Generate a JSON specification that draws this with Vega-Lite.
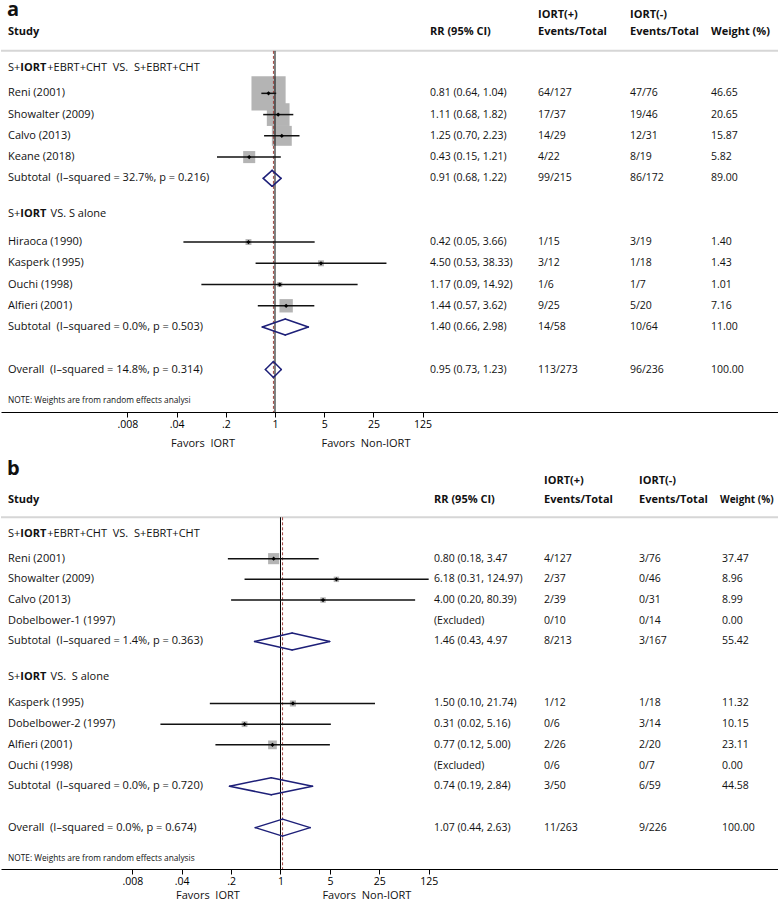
{
"$schema": "https://vega.github.io/schema/vega-lite/v6.json",
"padding": 0,
"background": "white",
"spacing": 0,
"resolve": {"scale": {"size": "independent", "x": "independent", "y": "independent"}},
"config": {"view": {"stroke": null}, "text": {"font": "Open Sans", "fontSize": 11, "color": "#111"},
"axis": {"grid": false, "domainColor": "#000", "domainWidth": 1, "tickColor": "#000", "tickWidth": 1, "tickSize": 5, "labelColor": "#000", "labelFont": "Open Sans", "labelFontSize": 10.5, "labelPadding": 2, "labelFlush": false, "labelOverlap": false}},
"datasets": {
"A": [
{"kind":"group","row":-0.2,"g3":"+EBRT+CHT\u00a0 VS.\u00a0 S+EBRT+CHT"},
{"kind":"study","row":1,"study":"Reni (2001)","rr":"0.81 (0.64, 1.04)","ev1":"64/127","ev2":"47/76","w":"46.65","lo":0.64,"est":0.81,"hi":1.04,"weight":46.65},
{"kind":"study","row":2,"study":"Showalter (2009)","rr":"1.11 (0.68, 1.82)","ev1":"17/37","ev2":"19/46","w":"20.65","lo":0.68,"est":1.11,"hi":1.82,"weight":20.65},
{"kind":"study","row":3,"study":"Calvo (2013)","rr":"1.25 (0.70, 2.23)","ev1":"14/29","ev2":"12/31","w":"15.87","lo":0.70,"est":1.25,"hi":2.23,"weight":15.87},
{"kind":"study","row":4,"study":"Keane (2018)","rr":"0.43 (0.15, 1.21)","ev1":"4/22","ev2":"8/19","w":"5.82","lo":0.15,"est":0.43,"hi":1.21,"weight":5.82},
{"kind":"sub","row":5,"study":"Subtotal\u00a0 (I–squared = 32.7%, p = 0.216)","rr":"0.91 (0.68, 1.22)","ev1":"99/215","ev2":"86/172","w":"89.00","lo":0.68,"est":0.91,"hi":1.22,"weight":89},
{"kind":"group","row":6.7,"g3":"VS. S alone"},
{"kind":"study","row":8,"study":"Hiraoca (1990)","rr":"0.42 (0.05, 3.66)","ev1":"1/15","ev2":"3/19","w":"1.40","lo":0.05,"est":0.42,"hi":3.66,"weight":1.40},
{"kind":"study","row":9,"study":"Kasperk (1995)","rr":"4.50 (0.53, 38.33)","ev1":"3/12","ev2":"1/18","w":"1.43","lo":0.53,"est":4.50,"hi":38.33,"weight":1.43},
{"kind":"study","row":10,"study":"Ouchi (1998)","rr":"1.17 (0.09, 14.92)","ev1":"1/6","ev2":"1/7","w":"1.01","lo":0.09,"est":1.17,"hi":14.92,"weight":1.01},
{"kind":"study","row":11,"study":"Alfieri (2001)","rr":"1.44 (0.57, 3.62)","ev1":"9/25","ev2":"5/20","w":"7.16","lo":0.57,"est":1.44,"hi":3.62,"weight":7.16},
{"kind":"sub","row":12,"study":"Subtotal\u00a0 (I–squared = 0.0%, p = 0.503)","rr":"1.40 (0.66, 2.98)","ev1":"14/58","ev2":"10/64","w":"11.00","lo":0.66,"est":1.40,"hi":2.98,"weight":11},
{"kind":"overall","row":14,"study":"Overall\u00a0 (I–squared = 14.8%, p = 0.314)","rr":"0.95 (0.73, 1.23)","ev1":"113/273","ev2":"96/236","w":"100.00","lo":0.73,"est":0.95,"hi":1.23,"weight":100},
{"kind":"note","row":15.5,"study":"NOTE: Weights are from random effects analysi"}
],
"B": [
{"kind":"group","row":-0.2,"g3":"+EBRT+CHT\u00a0 VS.\u00a0 S+EBRT+CHT"},
{"kind":"study","row":1,"study":"Reni (2001)","rr":"0.80 (0.18, 3.47","ev1":"4/127","ev2":"3/76","w":"37.47","lo":0.18,"est":0.80,"hi":3.47,"weight":37.47},
{"kind":"study","row":2,"study":"Showalter (2009)","rr":"6.18 (0.31, 124.97)","ev1":"2/37","ev2":"0/46","w":"8.96","lo":0.31,"est":6.18,"hi":124.97,"weight":8.96},
{"kind":"study","row":3,"study":"Calvo (2013)","rr":"4.00 (0.20, 80.39)","ev1":"2/39","ev2":"0/31","w":"8.99","lo":0.20,"est":4.00,"hi":80.39,"weight":8.99},
{"kind":"study","row":4,"study":"Dobelbower-1 (1997)","rr":"(Excluded)","ev1":"0/10","ev2":"0/14","w":"0.00","weight":0},
{"kind":"sub","row":5,"study":"Subtotal\u00a0 (I–squared = 1.4%, p = 0.363)","rr":"1.46 (0.43, 4.97","ev1":"8/213","ev2":"3/167","w":"55.42","lo":0.43,"est":1.46,"hi":4.97,"weight":55.42},
{"kind":"group","row":6.7,"g3":"VS.\u00a0 S alone"},
{"kind":"study","row":8,"study":"Kasperk (1995)","rr":"1.50 (0.10, 21.74)","ev1":"1/12","ev2":"1/18","w":"11.32","lo":0.10,"est":1.50,"hi":21.74,"weight":11.32},
{"kind":"study","row":9,"study":"Dobelbower-2 (1997)","rr":"0.31 (0.02, 5.16)","ev1":"0/6","ev2":"3/14","w":"10.15","lo":0.02,"est":0.31,"hi":5.16,"weight":10.15},
{"kind":"study","row":10,"study":"Alfieri (2001)","rr":"0.77 (0.12, 5.00)","ev1":"2/26","ev2":"2/20","w":"23.11","lo":0.12,"est":0.77,"hi":5.00,"weight":23.11},
{"kind":"study","row":11,"study":"Ouchi (1998)","rr":"(Excluded)","ev1":"0/6","ev2":"0/7","w":"0.00","weight":0},
{"kind":"sub","row":12,"study":"Subtotal\u00a0 (I–squared = 0.0%, p = 0.720)","rr":"0.74 (0.19, 2.84)","ev1":"3/50","ev2":"6/59","w":"44.58","lo":0.19,"est":0.74,"hi":2.84,"weight":44.58},
{"kind":"overall","row":14,"study":"Overall\u00a0 (I–squared = 0.0%, p = 0.674)","rr":"1.07 (0.44, 2.63)","ev1":"11/263","ev2":"9/226","w":"100.00","lo":0.44,"est":1.07,"hi":2.63,"weight":100},
{"kind":"note","row":15.5,"study":"NOTE: Weights are from random effects analysis"}
]
},
"vconcat": [
{
"width": 778, "height": 410,
"data": {"name": "A"},
"layer": [
{"transform":[{"filter":"datum.kind=='note'"}],"mark":{"type":"rule","color":"#d6d6d6","strokeWidth":2},"encoding":{"y":{"datum":-1,"type":"quantitative","scale":{"domain":[-3.3,16],"reverse":true,"nice":false,"zero":false},"axis":null}}},
{"transform":[{"filter":"datum.kind=='study' && datum.weight>0"}],"mark":{"type":"point","shape":"square","filled":true,"color":"#b4b4b4","opacity":1,"strokeWidth":0},"encoding":{"x":{"field":"est","type":"quantitative","scale":{"type":"log","domain":[0.0001281,14460000],"nice":false},"axis":{"values":[0.008,0.04,0.2,1,5,25,125],"labelExpr":"datum.value < 0.01 ? '.008' : datum.value < 0.1 ? '.04' : datum.value < 0.5 ? '.2' : format(datum.value, 'd')","title":null}},"y":{"field":"row","type":"quantitative","scale":{"domain":[-3.3,16],"reverse":true,"nice":false,"zero":false},"axis":null},"size":{"field":"weight","type":"quantitative","scale":{"domain":[0,100],"range":[0,2500]},"legend":null}}},
{"transform":[{"filter":"datum.kind=='note'"}],"mark":{"type":"rule","color":"#000","strokeWidth":1},"encoding":{"x":{"datum":1,"type":"quantitative","scale":{"type":"log","domain":[0.0001281,14460000],"nice":false},"axis":{"values":[0.008,0.04,0.2,1,5,25,125],"labelExpr":"datum.value < 0.01 ? '.008' : datum.value < 0.1 ? '.04' : datum.value < 0.5 ? '.2' : format(datum.value, 'd')","title":null}},"y":{"datum":-1,"type":"quantitative","scale":{"domain":[-3.3,16],"reverse":true,"nice":false,"zero":false},"axis":null},"y2":{"datum":16}}},
{"transform":[{"filter":"datum.kind=='overall'"}],"mark":{"type":"rule","color":"#a0453f","strokeWidth":1,"strokeDash":[3,2]},"encoding":{"x":{"field":"est","type":"quantitative","scale":{"type":"log","domain":[0.0001281,14460000],"nice":false},"axis":{"values":[0.008,0.04,0.2,1,5,25,125],"labelExpr":"datum.value < 0.01 ? '.008' : datum.value < 0.1 ? '.04' : datum.value < 0.5 ? '.2' : format(datum.value, 'd')","title":null}},"y":{"datum":-1,"type":"quantitative","scale":{"domain":[-3.3,16],"reverse":true,"nice":false,"zero":false},"axis":null},"y2":{"datum":16}}},
{"transform":[{"filter":"datum.kind=='study' && datum.weight>0"}],"mark":{"type":"rule","color":"#111","strokeWidth":1.5},"encoding":{"x":{"field":"lo","type":"quantitative","scale":{"type":"log","domain":[0.0001281,14460000],"nice":false},"axis":{"values":[0.008,0.04,0.2,1,5,25,125],"labelExpr":"datum.value < 0.01 ? '.008' : datum.value < 0.1 ? '.04' : datum.value < 0.5 ? '.2' : format(datum.value, 'd')","title":null}},"x2":{"field":"hi"},"y":{"field":"row","type":"quantitative","scale":{"domain":[-3.3,16],"reverse":true,"nice":false,"zero":false},"axis":null}}},
{"transform":[{"filter":"datum.kind=='study' && datum.weight>0"}],"mark":{"type":"point","shape":"diamond","filled":true,"color":"#000","opacity":1,"size":18},"encoding":{"x":{"field":"est","type":"quantitative","scale":{"type":"log","domain":[0.0001281,14460000],"nice":false},"axis":{"values":[0.008,0.04,0.2,1,5,25,125],"labelExpr":"datum.value < 0.01 ? '.008' : datum.value < 0.1 ? '.04' : datum.value < 0.5 ? '.2' : format(datum.value, 'd')","title":null}},"y":{"field":"row","type":"quantitative","scale":{"domain":[-3.3,16],"reverse":true,"nice":false,"zero":false},"axis":null}}},
{"transform":[{"filter":"datum.kind=='sub' || datum.kind=='overall'"}],"mark":{"type":"rule","color":"#1d1f78","strokeWidth":1.5,"strokeCap":"round","y2Offset":-8},"encoding":{"x":{"field":"lo","type":"quantitative","scale":{"type":"log","domain":[0.0001281,14460000],"nice":false},"axis":{"values":[0.008,0.04,0.2,1,5,25,125],"labelExpr":"datum.value < 0.01 ? '.008' : datum.value < 0.1 ? '.04' : datum.value < 0.5 ? '.2' : format(datum.value, 'd')","title":null}},"x2":{"field":"est"},"y":{"field":"row","type":"quantitative","scale":{"domain":[-3.3,16],"reverse":true,"nice":false,"zero":false},"axis":null},"y2":{"field":"row"}}},
{"transform":[{"filter":"datum.kind=='sub' || datum.kind=='overall'"}],"mark":{"type":"rule","color":"#1d1f78","strokeWidth":1.5,"strokeCap":"round","yOffset":-8},"encoding":{"x":{"field":"est","type":"quantitative","scale":{"type":"log","domain":[0.0001281,14460000],"nice":false},"axis":{"values":[0.008,0.04,0.2,1,5,25,125],"labelExpr":"datum.value < 0.01 ? '.008' : datum.value < 0.1 ? '.04' : datum.value < 0.5 ? '.2' : format(datum.value, 'd')","title":null}},"x2":{"field":"hi"},"y":{"field":"row","type":"quantitative","scale":{"domain":[-3.3,16],"reverse":true,"nice":false,"zero":false},"axis":null},"y2":{"field":"row"}}},
{"transform":[{"filter":"datum.kind=='sub' || datum.kind=='overall'"}],"mark":{"type":"rule","color":"#1d1f78","strokeWidth":1.5,"strokeCap":"round","y2Offset":8},"encoding":{"x":{"field":"hi","type":"quantitative","scale":{"type":"log","domain":[0.0001281,14460000],"nice":false},"axis":{"values":[0.008,0.04,0.2,1,5,25,125],"labelExpr":"datum.value < 0.01 ? '.008' : datum.value < 0.1 ? '.04' : datum.value < 0.5 ? '.2' : format(datum.value, 'd')","title":null}},"x2":{"field":"est"},"y":{"field":"row","type":"quantitative","scale":{"domain":[-3.3,16],"reverse":true,"nice":false,"zero":false},"axis":null},"y2":{"field":"row"}}},
{"transform":[{"filter":"datum.kind=='sub' || datum.kind=='overall'"}],"mark":{"type":"rule","color":"#1d1f78","strokeWidth":1.5,"strokeCap":"round","yOffset":8},"encoding":{"x":{"field":"est","type":"quantitative","scale":{"type":"log","domain":[0.0001281,14460000],"nice":false},"axis":{"values":[0.008,0.04,0.2,1,5,25,125],"labelExpr":"datum.value < 0.01 ? '.008' : datum.value < 0.1 ? '.04' : datum.value < 0.5 ? '.2' : format(datum.value, 'd')","title":null}},"x2":{"field":"lo"},"y":{"field":"row","type":"quantitative","scale":{"domain":[-3.3,16],"reverse":true,"nice":false,"zero":false},"axis":null},"y2":{"field":"row"}}},
{"transform":[{"filter":"datum.kind=='study' || datum.kind=='sub' || datum.kind=='overall'"}],"mark":{"type":"text","align":"left","baseline":"middle"},"encoding":{"x":{"value":7},"y":{"field":"row","type":"quantitative","scale":{"domain":[-3.3,16],"reverse":true,"nice":false,"zero":false},"axis":null},"text":{"field":"study"}}},
{"transform":[{"filter":"datum.kind=='study' || datum.kind=='sub' || datum.kind=='overall'"}],"mark":{"type":"text","align":"left","baseline":"middle","fontSize":10.5},"encoding":{"x":{"value":429},"y":{"field":"row","type":"quantitative","scale":{"domain":[-3.3,16],"reverse":true,"nice":false,"zero":false},"axis":null},"text":{"field":"rr"}}},
{"transform":[{"filter":"datum.kind=='study' || datum.kind=='sub' || datum.kind=='overall'"}],"mark":{"type":"text","align":"left","baseline":"middle","fontSize":10.5},"encoding":{"x":{"value":537},"y":{"field":"row","type":"quantitative","scale":{"domain":[-3.3,16],"reverse":true,"nice":false,"zero":false},"axis":null},"text":{"field":"ev1"}}},
{"transform":[{"filter":"datum.kind=='study' || datum.kind=='sub' || datum.kind=='overall'"}],"mark":{"type":"text","align":"left","baseline":"middle","fontSize":10.5},"encoding":{"x":{"value":629},"y":{"field":"row","type":"quantitative","scale":{"domain":[-3.3,16],"reverse":true,"nice":false,"zero":false},"axis":null},"text":{"field":"ev2"}}},
{"transform":[{"filter":"datum.kind=='study' || datum.kind=='sub' || datum.kind=='overall'"}],"mark":{"type":"text","align":"left","baseline":"middle","fontSize":10.5},"encoding":{"x":{"value":710},"y":{"field":"row","type":"quantitative","scale":{"domain":[-3.3,16],"reverse":true,"nice":false,"zero":false},"axis":null},"text":{"field":"w"}}},
{"transform":[{"filter":"datum.kind=='group'"}],"mark":{"type":"text","align":"left","baseline":"middle"},"encoding":{"x":{"value":7},"y":{"field":"row","type":"quantitative","scale":{"domain":[-3.3,16],"reverse":true,"nice":false,"zero":false},"axis":null},"text":{"value":"S+"}}},
{"transform":[{"filter":"datum.kind=='group'"}],"mark":{"type":"text","align":"left","baseline":"middle","fontWeight":"bold","dx":12.3},"encoding":{"x":{"value":7},"y":{"field":"row","type":"quantitative","scale":{"domain":[-3.3,16],"reverse":true,"nice":false,"zero":false},"axis":null},"text":{"value":"IORT"}}},
{"transform":[{"filter":"datum.kind=='group' && datum.row < 0"}],"mark":{"type":"text","align":"left","baseline":"middle","dx":39.3},"encoding":{"x":{"value":7},"y":{"field":"row","type":"quantitative","scale":{"domain":[-3.3,16],"reverse":true,"nice":false,"zero":false},"axis":null},"text":{"field":"g3"}}},
{"transform":[{"filter":"datum.kind=='group' && datum.row > 0"}],"mark":{"type":"text","align":"left","baseline":"middle","dx":42.6},"encoding":{"x":{"value":7},"y":{"field":"row","type":"quantitative","scale":{"domain":[-3.3,16],"reverse":true,"nice":false,"zero":false},"axis":null},"text":{"field":"g3"}}},
{"transform":[{"filter":"datum.kind=='note'"}],"mark":{"type":"text","align":"left","baseline":"middle","fontSize":8.3},"encoding":{"x":{"value":7},"y":{"field":"row","type":"quantitative","scale":{"domain":[-3.3,16],"reverse":true,"nice":false,"zero":false},"axis":null},"text":{"field":"study"}}},
{"transform":[{"filter":"datum.kind=='note'"}],"mark":{"type":"text","align":"left","baseline":"middle","fontWeight":"bold"},"encoding":{"x":{"value":7},"y":{"datum":-1.87,"type":"quantitative","scale":{"domain":[-3.3,16],"reverse":true,"nice":false,"zero":false},"axis":null},"text":{"value":"Study"}}},
{"transform":[{"filter":"datum.kind=='note'"}],"mark":{"type":"text","align":"left","baseline":"middle","fontWeight":"bold"},"encoding":{"x":{"value":429},"y":{"datum":-1.87,"type":"quantitative","scale":{"domain":[-3.3,16],"reverse":true,"nice":false,"zero":false},"axis":null},"text":{"value":"RR (95% CI)"}}},
{"transform":[{"filter":"datum.kind=='note'"}],"mark":{"type":"text","align":"left","baseline":"middle","fontWeight":"bold"},"encoding":{"x":{"value":537},"y":{"datum":-1.87,"type":"quantitative","scale":{"domain":[-3.3,16],"reverse":true,"nice":false,"zero":false},"axis":null},"text":{"value":"Events/Total"}}},
{"transform":[{"filter":"datum.kind=='note'"}],"mark":{"type":"text","align":"left","baseline":"middle","fontWeight":"bold"},"encoding":{"x":{"value":629},"y":{"datum":-1.87,"type":"quantitative","scale":{"domain":[-3.3,16],"reverse":true,"nice":false,"zero":false},"axis":null},"text":{"value":"Events/Total"}}},
{"transform":[{"filter":"datum.kind=='note'"}],"mark":{"type":"text","align":"left","baseline":"middle","fontWeight":"bold"},"encoding":{"x":{"value":710},"y":{"datum":-1.87,"type":"quantitative","scale":{"domain":[-3.3,16],"reverse":true,"nice":false,"zero":false},"axis":null},"text":{"value":"Weight (%)"}}},
{"transform":[{"filter":"datum.kind=='note'"}],"mark":{"type":"text","align":"left","baseline":"middle","fontWeight":"bold"},"encoding":{"x":{"value":537},"y":{"datum":-2.7,"type":"quantitative","scale":{"domain":[-3.3,16],"reverse":true,"nice":false,"zero":false},"axis":null},"text":{"value":"IORT(+)"}}},
{"transform":[{"filter":"datum.kind=='note'"}],"mark":{"type":"text","align":"left","baseline":"middle","fontWeight":"bold"},"encoding":{"x":{"value":629},"y":{"datum":-2.7,"type":"quantitative","scale":{"domain":[-3.3,16],"reverse":true,"nice":false,"zero":false},"axis":null},"text":{"value":"IORT(-)"}}},
{"transform":[{"filter":"datum.kind=='note'"}],"mark":{"type":"text","align":"left","baseline":"alphabetic","fontWeight":"bold","fontSize":20},"encoding":{"x":{"value":6},"y":{"datum":-2.62,"type":"quantitative","scale":{"domain":[-3.3,16],"reverse":true,"nice":false,"zero":false},"axis":null},"text":{"value":"a"}}},
{"transform":[{"filter":"datum.kind=='note'"}],"mark":{"type":"text","align":"center","baseline":"middle","fontSize":11},"encoding":{"x":{"datum":0.095,"type":"quantitative","scale":{"type":"log","domain":[0.0001281,14460000],"nice":false},"axis":{"values":[0.008,0.04,0.2,1,5,25,125],"labelExpr":"datum.value < 0.01 ? '.008' : datum.value < 0.1 ? '.04' : datum.value < 0.5 ? '.2' : format(datum.value, 'd')","title":null}},"y":{"datum":17.5,"type":"quantitative","scale":{"domain":[-3.3,16],"reverse":true,"nice":false,"zero":false},"axis":null},"text":{"value":"Favors\u00a0 IORT"}}},
{"transform":[{"filter":"datum.kind=='note'"}],"mark":{"type":"text","align":"center","baseline":"middle","fontSize":11},"encoding":{"x":{"datum":19.6,"type":"quantitative","scale":{"type":"log","domain":[0.0001281,14460000],"nice":false},"axis":{"values":[0.008,0.04,0.2,1,5,25,125],"labelExpr":"datum.value < 0.01 ? '.008' : datum.value < 0.1 ? '.04' : datum.value < 0.5 ? '.2' : format(datum.value, 'd')","title":null}},"y":{"datum":17.5,"type":"quantitative","scale":{"domain":[-3.3,16],"reverse":true,"nice":false,"zero":false},"axis":null},"text":{"value":"Favors\u00a0 Non-IORT"}}}
]
},
{
"width": 778, "height": 420,
"data": {"name": "B"},
"layer": [
{"transform":[{"filter":"datum.kind=='note'"}],"mark":{"type":"rule","color":"#d6d6d6","strokeWidth":2},"encoding":{"y":{"datum":-1,"type":"quantitative","scale":{"domain":[-4.3,16],"reverse":true,"nice":false,"zero":false},"axis":null}}},
{"transform":[{"filter":"datum.kind=='study' && datum.weight>0"}],"mark":{"type":"point","shape":"square","filled":true,"color":"#b4b4b4","opacity":1,"strokeWidth":0},"encoding":{"x":{"field":"est","type":"quantitative","scale":{"type":"log","domain":[0.0001109,11330000],"nice":false},"axis":{"values":[0.008,0.04,0.2,1,5,25,125],"labelExpr":"datum.value < 0.01 ? '.008' : datum.value < 0.1 ? '.04' : datum.value < 0.5 ? '.2' : format(datum.value, 'd')","title":null}},"y":{"field":"row","type":"quantitative","scale":{"domain":[-4.3,16],"reverse":true,"nice":false,"zero":false},"axis":null},"size":{"field":"weight","type":"quantitative","scale":{"domain":[0,100],"range":[0,330]},"legend":null}}},
{"transform":[{"filter":"datum.kind=='note'"}],"mark":{"type":"rule","color":"#000","strokeWidth":1},"encoding":{"x":{"datum":1,"type":"quantitative","scale":{"type":"log","domain":[0.0001109,11330000],"nice":false},"axis":{"values":[0.008,0.04,0.2,1,5,25,125],"labelExpr":"datum.value < 0.01 ? '.008' : datum.value < 0.1 ? '.04' : datum.value < 0.5 ? '.2' : format(datum.value, 'd')","title":null}},"y":{"datum":-1,"type":"quantitative","scale":{"domain":[-4.3,16],"reverse":true,"nice":false,"zero":false},"axis":null},"y2":{"datum":16}}},
{"transform":[{"filter":"datum.kind=='overall'"}],"mark":{"type":"rule","color":"#a0453f","strokeWidth":1,"strokeDash":[3,2]},"encoding":{"x":{"field":"est","type":"quantitative","scale":{"type":"log","domain":[0.0001109,11330000],"nice":false},"axis":{"values":[0.008,0.04,0.2,1,5,25,125],"labelExpr":"datum.value < 0.01 ? '.008' : datum.value < 0.1 ? '.04' : datum.value < 0.5 ? '.2' : format(datum.value, 'd')","title":null}},"y":{"datum":-1,"type":"quantitative","scale":{"domain":[-4.3,16],"reverse":true,"nice":false,"zero":false},"axis":null},"y2":{"datum":16}}},
{"transform":[{"filter":"datum.kind=='study' && datum.weight>0"}],"mark":{"type":"rule","color":"#111","strokeWidth":1.5},"encoding":{"x":{"field":"lo","type":"quantitative","scale":{"type":"log","domain":[0.0001109,11330000],"nice":false},"axis":{"values":[0.008,0.04,0.2,1,5,25,125],"labelExpr":"datum.value < 0.01 ? '.008' : datum.value < 0.1 ? '.04' : datum.value < 0.5 ? '.2' : format(datum.value, 'd')","title":null}},"x2":{"field":"hi"},"y":{"field":"row","type":"quantitative","scale":{"domain":[-4.3,16],"reverse":true,"nice":false,"zero":false},"axis":null}}},
{"transform":[{"filter":"datum.kind=='study' && datum.weight>0"}],"mark":{"type":"point","shape":"diamond","filled":true,"color":"#000","opacity":1,"size":18},"encoding":{"x":{"field":"est","type":"quantitative","scale":{"type":"log","domain":[0.0001109,11330000],"nice":false},"axis":{"values":[0.008,0.04,0.2,1,5,25,125],"labelExpr":"datum.value < 0.01 ? '.008' : datum.value < 0.1 ? '.04' : datum.value < 0.5 ? '.2' : format(datum.value, 'd')","title":null}},"y":{"field":"row","type":"quantitative","scale":{"domain":[-4.3,16],"reverse":true,"nice":false,"zero":false},"axis":null}}},
{"transform":[{"filter":"datum.kind=='sub' || datum.kind=='overall'"}],"mark":{"type":"rule","color":"#1d1f78","strokeWidth":1.5,"strokeCap":"round","y2Offset":-8.5},"encoding":{"x":{"field":"lo","type":"quantitative","scale":{"type":"log","domain":[0.0001109,11330000],"nice":false},"axis":{"values":[0.008,0.04,0.2,1,5,25,125],"labelExpr":"datum.value < 0.01 ? '.008' : datum.value < 0.1 ? '.04' : datum.value < 0.5 ? '.2' : format(datum.value, 'd')","title":null}},"x2":{"field":"est"},"y":{"field":"row","type":"quantitative","scale":{"domain":[-4.3,16],"reverse":true,"nice":false,"zero":false},"axis":null},"y2":{"field":"row"}}},
{"transform":[{"filter":"datum.kind=='sub' || datum.kind=='overall'"}],"mark":{"type":"rule","color":"#1d1f78","strokeWidth":1.5,"strokeCap":"round","yOffset":-8.5},"encoding":{"x":{"field":"est","type":"quantitative","scale":{"type":"log","domain":[0.0001109,11330000],"nice":false},"axis":{"values":[0.008,0.04,0.2,1,5,25,125],"labelExpr":"datum.value < 0.01 ? '.008' : datum.value < 0.1 ? '.04' : datum.value < 0.5 ? '.2' : format(datum.value, 'd')","title":null}},"x2":{"field":"hi"},"y":{"field":"row","type":"quantitative","scale":{"domain":[-4.3,16],"reverse":true,"nice":false,"zero":false},"axis":null},"y2":{"field":"row"}}},
{"transform":[{"filter":"datum.kind=='sub' || datum.kind=='overall'"}],"mark":{"type":"rule","color":"#1d1f78","strokeWidth":1.5,"strokeCap":"round","y2Offset":8.5},"encoding":{"x":{"field":"hi","type":"quantitative","scale":{"type":"log","domain":[0.0001109,11330000],"nice":false},"axis":{"values":[0.008,0.04,0.2,1,5,25,125],"labelExpr":"datum.value < 0.01 ? '.008' : datum.value < 0.1 ? '.04' : datum.value < 0.5 ? '.2' : format(datum.value, 'd')","title":null}},"x2":{"field":"est"},"y":{"field":"row","type":"quantitative","scale":{"domain":[-4.3,16],"reverse":true,"nice":false,"zero":false},"axis":null},"y2":{"field":"row"}}},
{"transform":[{"filter":"datum.kind=='sub' || datum.kind=='overall'"}],"mark":{"type":"rule","color":"#1d1f78","strokeWidth":1.5,"strokeCap":"round","yOffset":8.5},"encoding":{"x":{"field":"est","type":"quantitative","scale":{"type":"log","domain":[0.0001109,11330000],"nice":false},"axis":{"values":[0.008,0.04,0.2,1,5,25,125],"labelExpr":"datum.value < 0.01 ? '.008' : datum.value < 0.1 ? '.04' : datum.value < 0.5 ? '.2' : format(datum.value, 'd')","title":null}},"x2":{"field":"lo"},"y":{"field":"row","type":"quantitative","scale":{"domain":[-4.3,16],"reverse":true,"nice":false,"zero":false},"axis":null},"y2":{"field":"row"}}},
{"transform":[{"filter":"datum.kind=='study' || datum.kind=='sub' || datum.kind=='overall'"}],"mark":{"type":"text","align":"left","baseline":"middle"},"encoding":{"x":{"value":7},"y":{"field":"row","type":"quantitative","scale":{"domain":[-4.3,16],"reverse":true,"nice":false,"zero":false},"axis":null},"text":{"field":"study"}}},
{"transform":[{"filter":"datum.kind=='study' || datum.kind=='sub' || datum.kind=='overall'"}],"mark":{"type":"text","align":"left","baseline":"middle","fontSize":10.5},"encoding":{"x":{"value":433},"y":{"field":"row","type":"quantitative","scale":{"domain":[-4.3,16],"reverse":true,"nice":false,"zero":false},"axis":null},"text":{"field":"rr"}}},
{"transform":[{"filter":"datum.kind=='study' || datum.kind=='sub' || datum.kind=='overall'"}],"mark":{"type":"text","align":"left","baseline":"middle","fontSize":10.5},"encoding":{"x":{"value":543},"y":{"field":"row","type":"quantitative","scale":{"domain":[-4.3,16],"reverse":true,"nice":false,"zero":false},"axis":null},"text":{"field":"ev1"}}},
{"transform":[{"filter":"datum.kind=='study' || datum.kind=='sub' || datum.kind=='overall'"}],"mark":{"type":"text","align":"left","baseline":"middle","fontSize":10.5},"encoding":{"x":{"value":638},"y":{"field":"row","type":"quantitative","scale":{"domain":[-4.3,16],"reverse":true,"nice":false,"zero":false},"axis":null},"text":{"field":"ev2"}}},
{"transform":[{"filter":"datum.kind=='study' || datum.kind=='sub' || datum.kind=='overall'"}],"mark":{"type":"text","align":"left","baseline":"middle","fontSize":10.5},"encoding":{"x":{"value":721},"y":{"field":"row","type":"quantitative","scale":{"domain":[-4.3,16],"reverse":true,"nice":false,"zero":false},"axis":null},"text":{"field":"w"}}},
{"transform":[{"filter":"datum.kind=='group'"}],"mark":{"type":"text","align":"left","baseline":"middle"},"encoding":{"x":{"value":7},"y":{"field":"row","type":"quantitative","scale":{"domain":[-4.3,16],"reverse":true,"nice":false,"zero":false},"axis":null},"text":{"value":"S+"}}},
{"transform":[{"filter":"datum.kind=='group'"}],"mark":{"type":"text","align":"left","baseline":"middle","fontWeight":"bold","dx":12.3},"encoding":{"x":{"value":7},"y":{"field":"row","type":"quantitative","scale":{"domain":[-4.3,16],"reverse":true,"nice":false,"zero":false},"axis":null},"text":{"value":"IORT"}}},
{"transform":[{"filter":"datum.kind=='group' && datum.row < 0"}],"mark":{"type":"text","align":"left","baseline":"middle","dx":39.3},"encoding":{"x":{"value":7},"y":{"field":"row","type":"quantitative","scale":{"domain":[-4.3,16],"reverse":true,"nice":false,"zero":false},"axis":null},"text":{"field":"g3"}}},
{"transform":[{"filter":"datum.kind=='group' && datum.row > 0"}],"mark":{"type":"text","align":"left","baseline":"middle","dx":42.6},"encoding":{"x":{"value":7},"y":{"field":"row","type":"quantitative","scale":{"domain":[-4.3,16],"reverse":true,"nice":false,"zero":false},"axis":null},"text":{"field":"g3"}}},
{"transform":[{"filter":"datum.kind=='note'"}],"mark":{"type":"text","align":"left","baseline":"middle","fontSize":8.3},"encoding":{"x":{"value":7},"y":{"field":"row","type":"quantitative","scale":{"domain":[-4.3,16],"reverse":true,"nice":false,"zero":false},"axis":null},"text":{"field":"study"}}},
{"transform":[{"filter":"datum.kind=='note'"}],"mark":{"type":"text","align":"left","baseline":"middle","fontWeight":"bold"},"encoding":{"x":{"value":7},"y":{"datum":-1.85,"type":"quantitative","scale":{"domain":[-4.3,16],"reverse":true,"nice":false,"zero":false},"axis":null},"text":{"value":"Study"}}},
{"transform":[{"filter":"datum.kind=='note'"}],"mark":{"type":"text","align":"left","baseline":"middle","fontWeight":"bold"},"encoding":{"x":{"value":433},"y":{"datum":-1.85,"type":"quantitative","scale":{"domain":[-4.3,16],"reverse":true,"nice":false,"zero":false},"axis":null},"text":{"value":"RR (95% CI)"}}},
{"transform":[{"filter":"datum.kind=='note'"}],"mark":{"type":"text","align":"left","baseline":"middle","fontWeight":"bold"},"encoding":{"x":{"value":543},"y":{"datum":-1.85,"type":"quantitative","scale":{"domain":[-4.3,16],"reverse":true,"nice":false,"zero":false},"axis":null},"text":{"value":"Events/Total"}}},
{"transform":[{"filter":"datum.kind=='note'"}],"mark":{"type":"text","align":"left","baseline":"middle","fontWeight":"bold"},"encoding":{"x":{"value":638},"y":{"datum":-1.85,"type":"quantitative","scale":{"domain":[-4.3,16],"reverse":true,"nice":false,"zero":false},"axis":null},"text":{"value":"Events/Total"}}},
{"transform":[{"filter":"datum.kind=='note'"}],"mark":{"type":"text","align":"left","baseline":"middle","fontWeight":"bold","fontSize":10},"encoding":{"x":{"value":719},"y":{"datum":-1.85,"type":"quantitative","scale":{"domain":[-4.3,16],"reverse":true,"nice":false,"zero":false},"axis":null},"text":{"value":"Weight (%)"}}},
{"transform":[{"filter":"datum.kind=='note'"}],"mark":{"type":"text","align":"left","baseline":"middle","fontWeight":"bold"},"encoding":{"x":{"value":543},"y":{"datum":-2.77,"type":"quantitative","scale":{"domain":[-4.3,16],"reverse":true,"nice":false,"zero":false},"axis":null},"text":{"value":"IORT(+)"}}},
{"transform":[{"filter":"datum.kind=='note'"}],"mark":{"type":"text","align":"left","baseline":"middle","fontWeight":"bold"},"encoding":{"x":{"value":638},"y":{"datum":-2.77,"type":"quantitative","scale":{"domain":[-4.3,16],"reverse":true,"nice":false,"zero":false},"axis":null},"text":{"value":"IORT(-)"}}},
{"transform":[{"filter":"datum.kind=='note'"}],"mark":{"type":"text","align":"left","baseline":"alphabetic","fontWeight":"bold","fontSize":20},"encoding":{"x":{"value":6},"y":{"datum":-3.02,"type":"quantitative","scale":{"domain":[-4.3,16],"reverse":true,"nice":false,"zero":false},"axis":null},"text":{"value":"b"}}},
{"transform":[{"filter":"datum.kind=='note'"}],"mark":{"type":"text","align":"center","baseline":"middle","fontSize":11},"encoding":{"x":{"datum":0.094,"type":"quantitative","scale":{"type":"log","domain":[0.0001109,11330000],"nice":false},"axis":{"values":[0.008,0.04,0.2,1,5,25,125],"labelExpr":"datum.value < 0.01 ? '.008' : datum.value < 0.1 ? '.04' : datum.value < 0.5 ? '.2' : format(datum.value, 'd')","title":null}},"y":{"datum":17.3,"type":"quantitative","scale":{"domain":[-4.3,16],"reverse":true,"nice":false,"zero":false},"axis":null},"text":{"value":"Favors\u00a0 IORT"}}},
{"transform":[{"filter":"datum.kind=='note'"}],"mark":{"type":"text","align":"center","baseline":"middle","fontSize":11},"encoding":{"x":{"datum":16.7,"type":"quantitative","scale":{"type":"log","domain":[0.0001109,11330000],"nice":false},"axis":{"values":[0.008,0.04,0.2,1,5,25,125],"labelExpr":"datum.value < 0.01 ? '.008' : datum.value < 0.1 ? '.04' : datum.value < 0.5 ? '.2' : format(datum.value, 'd')","title":null}},"y":{"datum":17.3,"type":"quantitative","scale":{"domain":[-4.3,16],"reverse":true,"nice":false,"zero":false},"axis":null},"text":{"value":"Favors\u00a0 Non-IORT"}}}
]
}
]
}
